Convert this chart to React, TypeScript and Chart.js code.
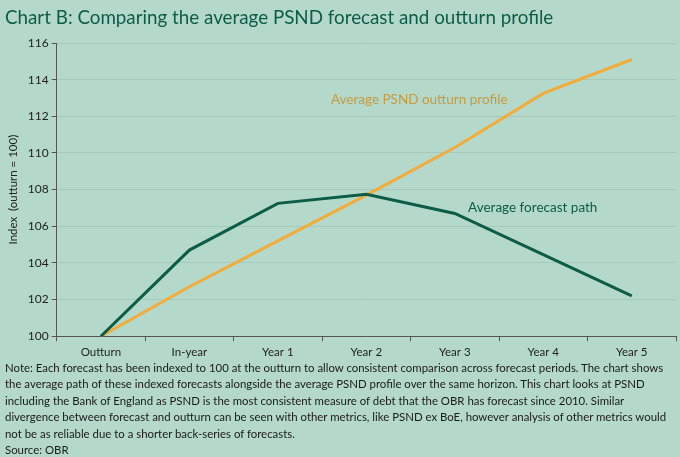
import React, { useEffect, useRef } from 'react';
import { Chart, registerables } from 'chart.js';

Chart.register(...registerables);

const categories = ['Outturn', 'In-year', 'Year 1', 'Year 2', 'Year 3', 'Year 4', 'Year 5'];
const forecastPath = [100, 104.7, 107.25, 107.75, 106.7, 104.45, 102.2];
const outturnProfile = [100, 102.7, 105.2, 107.7, 110.3, 113.25, 115.1];
const yTicks = [100, 102, 104, 106, 108, 110, 112, 114, 116];

const BG = '#b4d9cb';
const GREEN = '#0d5c47';
const ORANGE = '#f2ac3b';
const FONT = 'Lato, "Open Sans", sans-serif';

// labels placed next to the lines, anchored on data values
const lineLabels = {
    id: 'lineLabels',
    afterDatasetsDraw(chart: Chart) {
        const { ctx, scales } = chart;
        const x = scales.x;
        const y = scales.y;
        ctx.save();
        ctx.font = `13.5px ${FONT}`;
        ctx.textBaseline = 'middle';
        ctx.fillStyle = '#c89a3c';
        ctx.fillText('Average PSND outturn profile', x.getPixelForValue(2.6), y.getPixelForValue(112.9));
        ctx.fillStyle = GREEN;
        ctx.fillText('Average forecast path', x.getPixelForValue(4.15), y.getPixelForValue(107.0));
        ctx.restore();
    },
};

const LineChart = () => {
    const chartRef = useRef<HTMLCanvasElement | null>(null);
    const chartInstanceRef = useRef<Chart | null>(null);

    useEffect(() => {
        const ctx = chartRef.current?.getContext('2d');
        if (ctx) {
            chartInstanceRef.current = new Chart(ctx, {
                type: 'line',
                data: {
                    labels: categories,
                    datasets: [
                        {
                            label: 'Average forecast path',
                            data: forecastPath,
                            borderColor: GREEN,
                            borderWidth: 3,
                            pointRadius: 0,
                            tension: 0,
                        },
                        {
                            label: 'Average PSND outturn profile',
                            data: outturnProfile,
                            borderColor: ORANGE,
                            borderWidth: 3,
                            pointRadius: 0,
                            tension: 0,
                        },
                    ],
                },
                options: {
                    animation: false,
                    responsive: false,
                    maintainAspectRatio: false,
                    layout: { padding: { top: 43, bottom: 94, left: 6, right: 4 } },
                    plugins: {
                        legend: { display: false },
                        tooltip: { enabled: false },
                    },
                    scales: {
                        x: {
                            offset: true,
                            grid: {
                                offset: true,
                                drawOnChartArea: false,
                                tickLength: 5,
                                tickColor: '#555',
                            },
                            border: { color: '#555', width: 1 },
                            ticks: { color: '#222', font: { family: FONT, size: 11.5 }, padding: 4, maxRotation: 0 },
                        },
                        y: {
                            min: 100,
                            max: 116,
                            afterBuildTicks: (axis) => {
                                axis.ticks = yTicks.map((v) => ({ value: v }));
                            },
                            grid: {
                                color: '#a6c9bc',
                                tickColor: '#555',
                                tickLength: 5,
                            },
                            border: { color: '#555', width: 1 },
                            ticks: { color: '#222', font: { family: FONT, size: 12 }, padding: 3 },
                            title: {
                                display: true,
                                text: 'Index  (outturn = 100)',
                                color: '#222',
                                font: { family: FONT, size: 11.5 },
                                padding: { top: 0, bottom: 5 },
                            },
                        },
                    },
                },
                plugins: [lineLabels],
            });
        }
        return () => {
            chartInstanceRef.current?.destroy();
        };
    }, []);

    return <canvas ref={chartRef} width={680} height={457} style={{ position: 'absolute', left: 0, top: 0 }} />;
};

export default function App() {
    useEffect(() => {
        document.body.style.margin = '0';
    }, []);

    return (
        <div style={{ position: 'relative', width: 680, height: 457, background: BG, fontFamily: FONT, overflow: 'hidden' }}>
            <LineChart />
            <div style={{ position: 'absolute', left: 5, top: 5, fontSize: 18.8, color: GREEN, whiteSpace: 'nowrap' }}>
                Chart B: Comparing the average PSND forecast and outturn profile
            </div>
            <div style={{ position: 'absolute', left: 5, top: 360, width: 675, fontSize: 11.4, lineHeight: '16.4px', color: '#1a1a1a' }}>
                Note: Each forecast has been indexed to 100 at the outturn to allow consistent comparison across forecast periods. The chart shows
                the average path of these indexed forecasts alongside the average PSND profile over the same horizon. This chart looks at PSND
                including the Bank of England as PSND is the most consistent measure of debt that the OBR has forecast since 2010. Similar
                divergence between forecast and outturn can be seen with other metrics, like PSND ex BoE, however analysis of other metrics would
                not be as reliable due to a shorter back-series of forecasts.
                <br />
                Source: OBR
            </div>
        </div>
    );
}
